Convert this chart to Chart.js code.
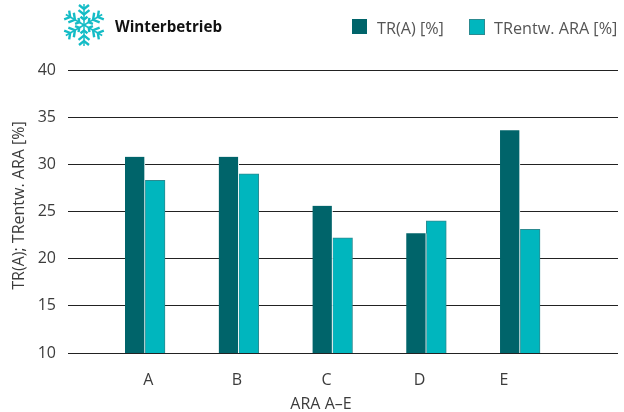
<!DOCTYPE html>
<html><head><meta charset="utf-8">
<script src="https://cdn.jsdelivr.net/npm/chart.js@4"></script>
<style>html,body{margin:0;padding:0;background:#fff}#w{position:relative;width:624px;height:412px}</style>
</head><body><div id="w"><canvas id="c" width="624" height="412"></canvas></div>
<script>
const categories = ['A','B','C','D','E'];
const seriesA = [30.8, 30.8, 25.6, 22.7, 33.6];
const seriesB = [28.3, 29.0, 22.2, 24.0, 23.1];
const yTicks = [10,15,20,25,30,35,40];
const labelSlots = [0.035, 0.981, 1.936, 2.928, 3.829];
const seriesNames = ['TR(A) [%]','TRentw. ARA [%]'];
const heading = 'Winterbetrieb';
const xTitle = 'ARA A–E';
const yTitle = 'TR(A); TRentw. ARA [%]';
const FONT = '"Open Sans"';
const INK = '#3c3c3c';

const decor = {
  id:'decor',
  afterDraw(ch){
    const g = ch.ctx;
    g.save();
    g.translate(84,25);
    g.strokeStyle='#14BCC6';
    const R=21;
    for(let i=0;i<6;i++){
      g.save(); g.rotate(i*Math.PI/3);
      g.lineWidth=1.5;
      g.beginPath(); g.moveTo(0,0); g.lineTo(0,-R); g.stroke();
      g.lineWidth=2.4;
      [[-16,5],[-10.5,5.5],[-5.5,3.5]].forEach(([y,s])=>{
        g.beginPath(); g.moveTo(-s,y-s*0.8); g.lineTo(0,y); g.lineTo(s,y-s*0.8); g.stroke();
      });
      g.restore();
    }
    g.restore();

    g.save();
    g.textBaseline='middle'; g.textAlign='left';
    g.fillStyle='#111'; g.font='bold 15.2px '+FONT;
    g.fillText(heading,115,28);
    g.fillStyle='#00646A'; g.fillRect(352,19,15,15);
    g.fillStyle='#00B6BE'; g.fillRect(469,19,16,15);
    g.strokeStyle='#2C8A90'; g.lineWidth=1; g.strokeRect(469.5,19.5,15,15);
    g.font='16.2px '+FONT; g.fillStyle='#555';
    g.fillText(seriesNames[0],377,29);
    g.fillText(seriesNames[1],494,29);
    g.font='16px '+FONT;
    g.textAlign='center'; g.fillStyle=INK;
    g.fillText(xTitle,321,404);
    g.translate(19,205.5); g.rotate(-Math.PI/2);
    g.fillText(yTitle,0,0);
    g.restore();
  }
};

new Chart(document.getElementById('c'),{
  type:'bar',
  data:{
    datasets:[
      {label:seriesNames[0],data:categories.map((_, i)=>({x:i,y:seriesA[i]})),backgroundColor:'#00646A',borderColor:'#fff',borderWidth:{right:1,left:0,top:0,bottom:0},borderSkipped:false,barThickness:20},
      {label:seriesNames[1],data:categories.map((_, i)=>({x:i,y:seriesB[i]})),backgroundColor:'#00B6BE',borderColor:'#2C8A90',borderWidth:1,borderSkipped:false,barThickness:20}
    ]
  },
  plugins:[decor],
  options:{
    responsive:false,animation:false,
    layout:{padding:{left:0,right:6,top:70,bottom:0}},
    plugins:{legend:{display:false},tooltip:{enabled:false},title:{display:false}},
    scales:{
      x:{type:'linear',min:-0.8213,max:5.045,offset:false,
        afterFit(s){s.height=59;s.paddingLeft=0;s.paddingRight=0;},
        grid:{display:false},border:{display:false},
        afterBuildTicks(s){s.ticks=labelSlots.map(v=>({value:v}));},
        ticks:{autoSkip:false,maxRotation:0,color:INK,font:{family:FONT,size:16},padding:10,
          callback(v,i){return categories[i];}}},
      y:{min:10,max:40,
        afterFit(s){s.width=68;s.paddingTop=0;s.paddingBottom=0;},
        afterBuildTicks(s){s.ticks=yTicks.map(v=>({value:v}));},
        grid:{color:'#222',lineWidth:1,drawTicks:false},border:{display:false},
        ticks:{color:INK,font:{family:FONT,size:16},padding:12}}
    }
  }
});
</script></body></html>
